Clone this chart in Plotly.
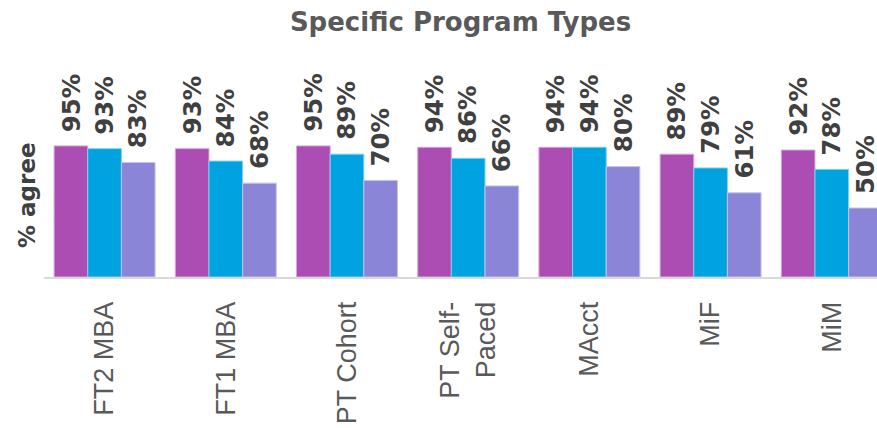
import plotly.graph_objects as go

categories = ["FT2 MBA", "FT1 MBA", "PT Cohort", "PT Self-<br>Paced", "MAcct", "MiF", "MiM"]
series_a = [0.95, 0.93, 0.95, 0.94, 0.94, 0.89, 0.92]
series_b = [0.93, 0.84, 0.89, 0.86, 0.94, 0.79, 0.78]
series_c = [0.83, 0.68, 0.70, 0.66, 0.80, 0.61, 0.50]

series = [series_a, series_b, series_c]
colors = ["#AB4DB2", "#00A2E0", "#8B85D7"]
line_colors = ["#D8A6DC", "#7FD0F0", "#C5C2EB"]

BARGAP = 0.167
n_series = len(series)
bar_w = (1 - BARGAP) / n_series

W, H = 877, 428
L, R = 44, 0
T, B = 139, 151
plot_w = W - L - R
plot_h = H - T - B

fig = go.Figure()
annotations = []
for j, (vals, col, lc) in enumerate(zip(series, colors, line_colors)):
    fig.add_trace(go.Bar(
        x=list(range(len(categories))), y=vals,
        marker=dict(color=col, line=dict(color=lc, width=1)),
        showlegend=False, hoverinfo="skip",
    ))
    offset = (j - (n_series - 1) / 2) * bar_w
    for i, v in enumerate(vals):
        annotations.append(dict(
            x=i + offset, y=v, xref="x", yref="y",
            text=f"{round(v*100)}%", textangle=-90,
            showarrow=False, yanchor="bottom", xanchor="center",
            yshift=12,
            font=dict(family="DejaVu Sans", size=24.5, color="#404040", weight="bold"),
        ))

annotations.append(dict(
    x=(27 - 44) / plot_w, xref="paper", xanchor="center",
    y=(277 - 195) / plot_h, yref="paper", yanchor="middle",
    text="% agree", textangle=-90, showarrow=False,
    font=dict(family="DejaVu Sans", size=23, color="#404040", weight="bold"),
))

fig.update_layout(
    width=W, height=H,
    margin=dict(l=L, r=R, t=T, b=B, pad=0),
    plot_bgcolor="white", paper_bgcolor="white",
    barmode="group", bargap=BARGAP, bargroupgap=0,
    title=dict(
        text="Specific Program Types", x=0.5, xref="paper", xanchor="center",
        y=1 - 22 / H, yref="container", yanchor="middle",
        font=dict(family="DejaVu Sans", size=26, color="#595959", weight="bold"),
    ),
    xaxis=dict(
        tickmode="array", tickvals=list(range(len(categories))), ticktext=categories,
        range=[-0.5, 6.373], tickangle=-90,
        tickfont=dict(family="Liberation Sans", size=27, color="#595959"),
        showline=True, linecolor="#D9D9D9", linewidth=2, showgrid=False,
        ticks="", ticklabelstandoff=12, zeroline=False,
    ),
    yaxis=dict(
        range=[0, 1], showticklabels=False, showgrid=False, zeroline=False,
        showline=False, ticks="",
    ),
    annotations=annotations,
)

fig.write_html(
    "out.html",
    config={"displayModeBar": False},
    post_script="document.body.style.margin='0';document.body.style.overflow='hidden';",
)
